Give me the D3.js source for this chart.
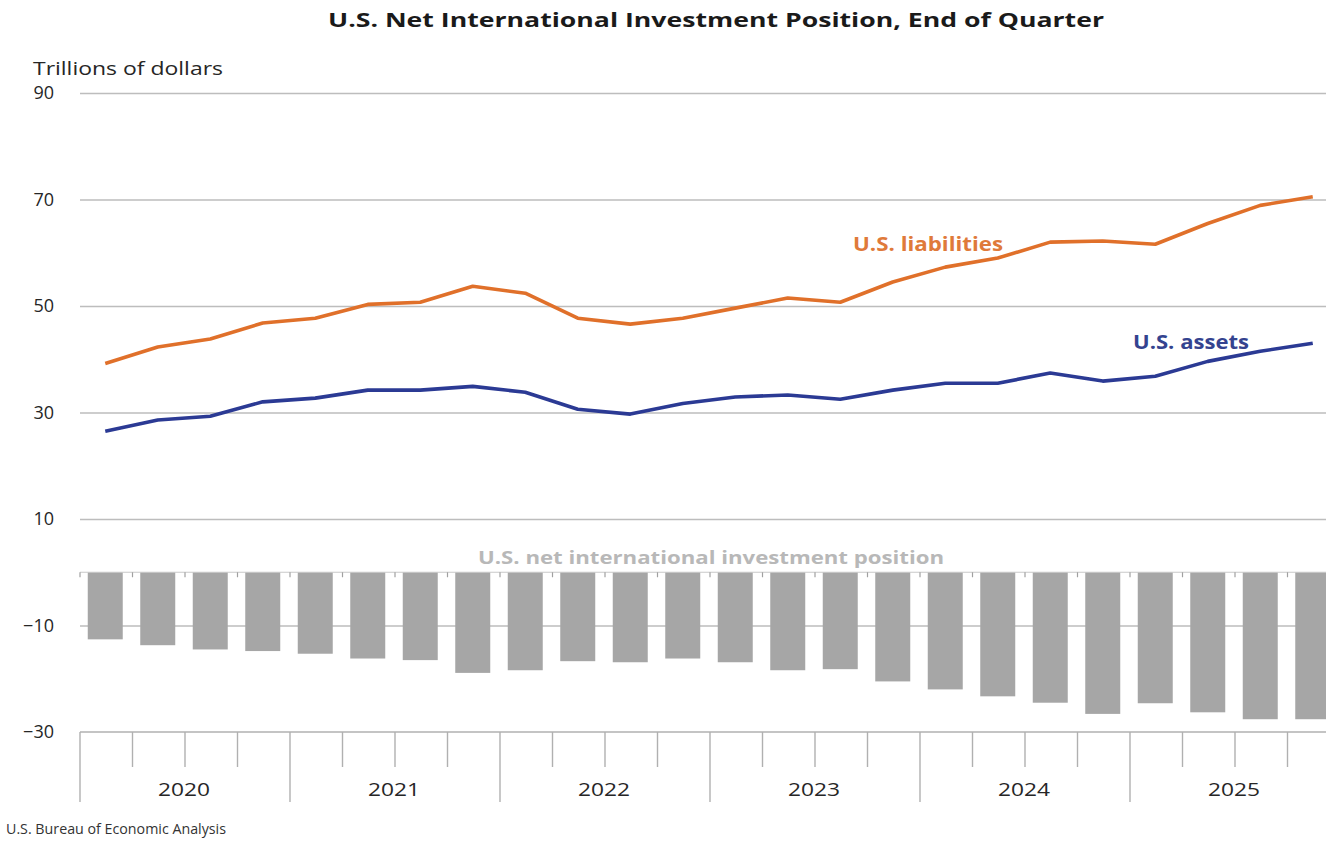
<!DOCTYPE html>
<html>
<head>
<meta charset="utf-8">
<script src="https://cdn.jsdelivr.net/npm/d3@7"></script>
<style>
  html, body { margin: 0; padding: 0; background: #ffffff; overflow: hidden; }
  svg { display: block; font-family: "Open Sans", "Liberation Sans", sans-serif; }
</style>
</head>
<body>
<svg id="chart" width="1326" height="842"></svg>
<script>
// ---- Data (trillions of dollars, end of quarter) ----
const years = ["2020", "2021", "2022", "2023", "2024", "2025"];
const quarterNames = ["Q1", "Q2", "Q3", "Q4"];
const quarters = years.flatMap(yr => quarterNames.map(q => yr + " " + q));
const liabilities = [39.2, 42.3, 43.8, 46.8, 47.7, 50.3, 50.7, 53.7, 52.4, 47.7, 46.6, 47.7,
                     49.6, 51.5, 50.7, 54.5, 57.3, 59.0, 62.0, 62.2, 61.6, 65.5, 68.9, 70.5];
const assets      = [26.5, 28.6, 29.3, 32.0, 32.7, 34.2, 34.2, 34.9, 33.8, 30.6, 29.7, 31.7,
                     32.9, 33.3, 32.5, 34.2, 35.5, 35.5, 37.4, 35.9, 36.8, 39.6, 41.5, 43.0];
const netPosition = [-12.6, -13.7, -14.5, -14.8, -15.3, -16.2, -16.5, -18.9, -18.4, -16.7, -16.9, -16.2,
                     -16.9, -18.4, -18.2, -20.5, -22.0, -23.3, -24.5, -26.6, -24.6, -26.3, -27.6, -27.6];
const yTicks = [90, 70, 50, 30, 10, -10, -30];

const titleText = "U.S. Net International Investment Position, End of Quarter";
const unitText = "Trillions of dollars";
const sourceText = "U.S. Bureau of Economic Analysis";

// ---- Layout ----
const svg = d3.select("#chart");
const plotLeft = 79, plotRight = 1339, plotTop = 93, plotBottom = 732;

const x = d3.scaleBand().domain(quarters).range([plotLeft, plotRight])
  .paddingInner(1 / 3).paddingOuter(1 / 6);
const step = x.step();
const y = d3.scaleLinear().domain([-30, 90]).range([plotBottom, plotTop]);
const cx = q => x(q) + x.bandwidth() / 2;
const qStart = q => x(q) - (step - x.bandwidth()) / 2;

svg.append("rect").attr("width", 1326).attr("height", 842).attr("fill", "#fff");

// Title
svg.append("text").attr("x", 716).attr("y", 27).attr("text-anchor", "middle")
  .attr("font-size", 20).attr("font-weight", "bold").attr("fill", "#1a1a1a")
  .attr("textLength", 776).attr("lengthAdjust", "spacingAndGlyphs")
  .text(titleText);

// Unit label
svg.append("text").attr("x", 33).attr("y", 75)
  .attr("font-size", 18).attr("fill", "#262626")
  .attr("textLength", 190).attr("lengthAdjust", "spacingAndGlyphs")
  .text(unitText);

// Y axis with gridlines
const yAxis = d3.axisLeft(y).tickValues(yTicks.filter(v => v !== -30))
  .tickSize(-(plotRight - plotLeft)).tickPadding(26).tickFormat(d3.format("d"));
const gy = svg.append("g").attr("transform", `translate(${plotLeft + 1},0)`).call(yAxis);
gy.select(".domain").remove();
gy.selectAll(".tick line").attr("stroke", "#bdbdbd").attr("stroke-width", 1.6);
gy.selectAll(".tick text").attr("font-size", 18).attr("fill", "#262626")
  .attr("font-family", "Open Sans, sans-serif");
// -30 label (axis line drawn separately)
svg.append("text").attr("x", plotLeft + 1 - 26).attr("y", y(-30)).attr("dy", "0.32em")
  .attr("text-anchor", "end").attr("font-size", 18).attr("fill", "#262626")
  .text(d3.format("d")(-30));

// Bars (net position)
svg.append("g").selectAll("rect").data(quarters).join("rect")
  .attr("x", q => x(q))
  .attr("width", x.bandwidth())
  .attr("y", (q, i) => y(Math.max(0, netPosition[i])))
  .attr("height", (q, i) => Math.abs(y(netPosition[i]) - y(0)))
  .attr("fill", "#a6a6a6");

// Zero line with small ticks
svg.append("line").attr("x1", plotLeft + 1).attr("x2", plotRight).attr("y1", y(0)).attr("y2", y(0))
  .attr("stroke", "#c8c8c8").attr("stroke-width", 1.2);
svg.append("g").selectAll("line").data(quarters).join("line")
  .attr("x1", q => qStart(q) + 1).attr("x2", q => qStart(q) + 1)
  .attr("y1", y(0)).attr("y2", y(0) + 5)
  .attr("stroke", "#a0a0a0").attr("stroke-width", 1.2);

// Bottom category axis
svg.append("line").attr("x1", plotLeft + 1).attr("x2", plotRight).attr("y1", plotBottom).attr("y2", plotBottom)
  .attr("stroke", "#b0b0b0").attr("stroke-width", 1.6);
svg.append("g").selectAll("line").data(quarters).join("line")
  .attr("x1", q => qStart(q) + 1).attr("x2", q => qStart(q) + 1)
  .attr("y1", plotBottom).attr("y2", (q, i) => i % 4 === 0 ? 802 : 767)
  .attr("stroke", "#b0b0b0").attr("stroke-width", 1.4);
svg.append("g").selectAll("text").data(years).join("text")
  .attr("x", yr => (qStart(yr + " Q1") + qStart(yr + " Q4") + step) / 2)
  .attr("y", 796).attr("text-anchor", "middle")
  .attr("font-size", 18).attr("fill", "#262626")
  .attr("textLength", 52).attr("lengthAdjust", "spacingAndGlyphs")
  .text(d => d);

// Lines
const line = d3.line().x((d, i) => cx(quarters[i])).y(d => y(d));
svg.append("path").datum(liabilities).attr("d", line)
  .attr("fill", "none").attr("stroke", "#e0702a").attr("stroke-width", 3.6)
  .attr("stroke-linejoin", "round");
svg.append("path").datum(assets).attr("d", line)
  .attr("fill", "none").attr("stroke", "#2b3a94").attr("stroke-width", 3.6)
  .attr("stroke-linejoin", "round");

// Series labels
svg.append("text").attr("x", 853).attr("y", 251)
  .attr("font-size", 19).attr("font-weight", "bold").attr("fill", "#df7a3a")
  .attr("textLength", 150).attr("lengthAdjust", "spacingAndGlyphs")
  .text("U.S. liabilities");
svg.append("text").attr("x", 1133).attr("y", 349)
  .attr("font-size", 19).attr("font-weight", "bold").attr("fill", "#34438f")
  .attr("textLength", 116).attr("lengthAdjust", "spacingAndGlyphs")
  .text("U.S. assets");
svg.append("text").attr("x", 478).attr("y", 564)
  .attr("font-size", 18).attr("font-weight", "bold").attr("fill", "#b8b8b8")
  .attr("textLength", 466).attr("lengthAdjust", "spacingAndGlyphs")
  .text("U.S. net international investment position");

// Source
svg.append("text").attr("x", 6).attr("y", 834)
  .attr("font-size", 14).attr("fill", "#333")
  .attr("textLength", 220).attr("lengthAdjust", "spacingAndGlyphs")
  .text(sourceText);
</script>
</body>
</html>
